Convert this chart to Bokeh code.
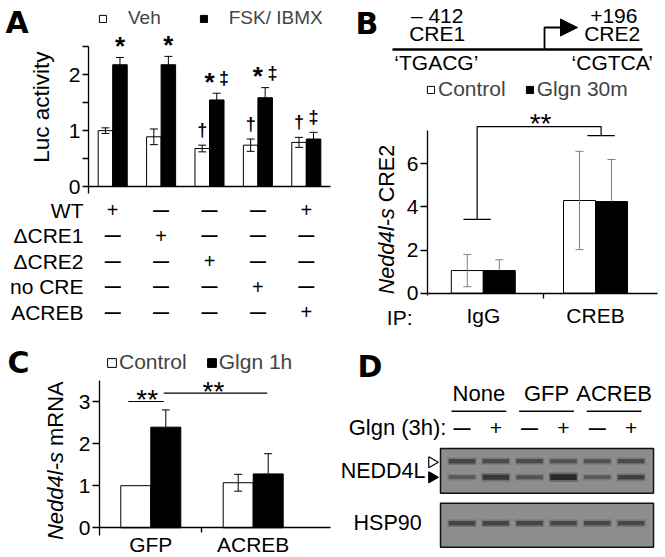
import math
from bokeh.plotting import figure
from bokeh.layouts import column, row
from bokeh.models import (Range1d, FixedTicker, Whisker, TeeHead, ColumnDataSource,
                          Label, Legend, LegendItem)
from bokeh.embed import file_html
from bokeh.resources import INLINE
from bokeh.core.properties import value

FONT = "Liberation Sans"
LETTER_FONT = "DejaVu Sans"

# ---------------- data: panel A ----------------
a_groups = [0, 1, 2, 3, 4]
a_veh = [1.00, 0.89, 0.68, 0.74, 0.79]
a_veh_err = [0.05, 0.14, 0.06, 0.11, 0.09]
a_fsk = [2.18, 2.18, 1.55, 1.59, 0.85]
a_fsk_err = [0.13, 0.15, 0.12, 0.18, 0.12]
a_veh_mark = ["", "", "†", "†", "†"]
a_fsk_star = ["*", "*", "*", "*", ""]
a_fsk_dagger = ["", "", "‡", "‡", "‡"]
a_rows = ["WT", "ΔCRE1", "ΔCRE2", "no CRE", "ACREB"]
a_table = [
    ["+", "—", "—", "—", "+"],
    ["—", "+", "—", "—", "—"],
    ["—", "—", "+", "—", "—"],
    ["—", "—", "—", "+", "—"],
    ["—", "—", "—", "—", "+"],
]
a_yticks = [0, 1, 2]
a_yminor = [0.5, 1.5, 2.5]

# ---------------- data: panel B ----------------
b_groups = ["IgG", "CREB"]
b_control = [1.05, 4.30]
b_control_err = [0.75, 2.28]
b_glgn = [1.05, 4.25]
b_glgn_err = [0.50, 1.95]
b_yticks = [0, 2, 4, 6]
b_sig = [3.42, 7.73, 7.31]  # left cap, top, right cap

# ---------------- data: panel C ----------------
c_groups = ["GFP", "ACREB"]
c_control = [1.00, 1.07]
c_control_err = [0.0, 0.20]
c_glgn = [2.39, 1.28]
c_glgn_err = [0.41, 0.48]
c_yticks = [0, 1, 2, 3]
c_sig = [3.0, 3.2]

# ---------------- data: panel D ----------------
d_groups = ["None", "GFP", "ACREB"]
d_glgn = ["—", "+", "—", "+", "—", "+"]
d_nedd4l_upper = [0.60, 0.55, 0.55, 0.50, 0.50, 0.55]
d_nedd4l_lower = [0.42, 0.75, 0.47, 0.92, 0.42, 0.65]
d_hsp90 = [0.60, 0.60, 0.60, 0.58, 0.58, 0.58]


def make_fig(w, h, xr, yr):
    p = figure(width=w, height=h, x_range=xr, y_range=yr, output_backend="svg",
               toolbar_location=None, min_border_left=0, min_border_right=0,
               min_border_top=0, min_border_bottom=0)
    p.xgrid.visible = False
    p.ygrid.visible = False
    p.outline_line_color = None
    p.background_fill_color = "white"
    p.border_fill_color = "white"
    return p


def style_axis(ax, size="21px"):
    ax.axis_line_color = "black"
    ax.axis_line_width = 1.3
    ax.major_tick_line_color = "black"
    ax.minor_tick_line_color = "black"
    ax.major_tick_line_width = 1.3
    ax.minor_tick_line_width = 1.3
    ax.major_tick_in = 0
    ax.minor_tick_in = 0
    ax.major_label_text_font = FONT
    ax.major_label_text_font_size = size
    ax.major_label_text_color = "black"


def whisker(p, xs, lo, hi, color, both=True, size=8):
    src = ColumnDataSource(dict(x=xs, lo=lo, hi=hi))
    w = Whisker(source=src, base="x", lower="lo", upper="hi", line_color=color, line_width=1,
                upper_head=TeeHead(size=size, line_color=color, line_width=1),
                lower_head=TeeHead(size=size, line_color=color, line_width=1) if both else None,
                level="annotation")
    p.add_layout(w)


def legend(p, items, loc, glyph, standoff, spacing, size="21px"):
    lg = Legend(items=[LegendItem(label=t, renderers=[r]) for t, r in items],
                location=loc, orientation="horizontal", glyph_width=glyph, glyph_height=glyph,
                label_height=glyph, label_standoff=standoff, spacing=spacing, padding=0,
                margin=0, border_line_color=None, background_fill_alpha=0,
                label_text_font=FONT, label_text_font_size=size)
    p.add_layout(lg)


def txt(p, xs, ys, texts, size, bold=False, italic=False, align="center"):
    style = "bold" if bold else ("italic" if italic else "normal")
    p.text(x=xs, y=ys, text=texts, text_font=value(FONT), text_font_size=size,
           text_font_style=style, text_align=align, text_baseline="middle", text_color="black")


def label(p, t, x, y, size, angle=0.0, align="center", style="normal", font=FONT):
    p.add_layout(Label(x=x, y=y, x_units="data", y_units="data", text=t, text_font=font,
                       text_font_size=size, text_font_style=style, text_baseline="middle",
                       text_align=align, angle=angle, text_color="black"))


def letter(p, t, x, y):
    label(p, t, x, y, "30px", align="left", style="bold", font=LETTER_FONT)


# =============== Panel A (chart) ===============  page x 0..340, y 0..196
A_PX = 55.85   # px per unit (y)
A_GX = 48.4    # px per group (x)
BWA = 0.3
ax_veh = [g - BWA / 2 for g in a_groups]
ax_fsk = [g + BWA / 2 for g in a_groups]
pA = make_fig(340, 196, Range1d(-0.5 - 88 / A_GX, 4.5 + 10 / A_GX),
              Range1d(-10 / A_PX, 186 / A_PX))
r_veh = pA.vbar(x=ax_veh, top=a_veh, width=BWA, fill_color="white", line_color="black", line_width=1)
r_fsk = pA.vbar(x=ax_fsk, top=a_fsk, width=BWA, fill_color="black", line_color="black", line_width=1)
whisker(pA, ax_veh, [v - e for v, e in zip(a_veh, a_veh_err)],
        [v + e for v, e in zip(a_veh, a_veh_err)], "black")
whisker(pA, ax_fsk, a_fsk, [v + e for v, e in zip(a_fsk, a_fsk_err)], "black", both=False)

ya = pA.yaxis[0]
style_axis(ya)
ya.fixed_location = -0.5
ya.ticker = FixedTicker(ticks=a_yticks, minor_ticks=a_yminor)
ya.bounds = (-0.12, 2.5)
ya.major_tick_out = 6
ya.minor_tick_out = 6
ya.major_label_standoff = 2
xa = pA.xaxis[0]
style_axis(xa)
xa.fixed_location = 0
xa.bounds = (-0.5, 4.5)
xa.ticker = FixedTicker(ticks=[], minor_ticks=[])
xa.major_tick_out = 0
xa.minor_tick_out = 0

sx, sy, dx, dy, dt = [], [], [], [], []
for i in a_groups:
    vt = a_veh[i] + a_veh_err[i]
    ft = a_fsk[i] + a_fsk_err[i]
    if a_veh_mark[i]:
        dx.append(ax_veh[i]); dy.append(vt + 0.27); dt.append(a_veh_mark[i])
    st, dg = a_fsk_star[i], a_fsk_dagger[i]
    if st and dg:
        sx.append(i); sy.append(ft + 0.2)
        dx.append(i + BWA); dy.append(ft + 0.27); dt.append(dg)
    elif st:
        sx.append(ax_fsk[i]); sy.append(ft + 0.2)
    elif dg:
        dx.append(ax_fsk[i]); dy.append(ft + 0.27); dt.append(dg)
txt(pA, sx, sy, ["*"] * len(sx), "26px", bold=True)
txt(pA, dx, dy, dt, "18px", bold=True)

legend(pA, [("Veh", r_veh), ("FSK/ IBMX", r_fsk)], (98, 167), 9, 21, 38, "19px")
label(pA, "Luc activity", -1.471, 1.42, "22.5px", angle=math.pi / 2)
letter(pA, "A", -2.215, 2.94)

# =============== Panel A (table) ===============  page y 196..340
T_ROW = 25.5
pT = make_fig(340, 144, pA.x_range, Range1d(-13.75 / T_ROW + 144 / T_ROW, -13.75 / T_ROW))
pT.xaxis.visible = False
yt = pT.yaxis[0]
style_axis(yt)
yt.fixed_location = -0.5
yt.ticker = FixedTicker(ticks=list(range(len(a_rows))), minor_ticks=[])
yt.major_label_overrides = {i: r for i, r in enumerate(a_rows)}
yt.axis_line_color = None
yt.major_tick_line_color = None
yt.major_tick_out = 0
yt.major_label_standoff = 5
px_, py_, mx_, my_ = [], [], [], []
for r, rowvals in enumerate(a_table):
    for g, s in enumerate(rowvals):
        if s == "+":
            px_.append(g); py_.append(r)
        else:
            mx_.append(g); my_.append(r)
txt(pT, px_, py_, ["+"] * len(px_), "20px")
txt(pT, mx_, my_, ["—"] * len(mx_), "16px", bold=True)

# =============== Panel B (diagram) ===============  page x 340..665, y 0..78
pBd = make_fig(325, 78, Range1d(0, 325), Range1d(78, 0))
pBd.axis.visible = False
pBd.line(x=[52, 302], y=[49, 49], line_color="black", line_width=2.3)
pBd.line(x=[204, 204, 222], y=[49, 27, 27], line_color="black", line_width=1.8)
pBd.patch(x=[220, 220, 237], y=[18.5, 35.5, 27], fill_color="black", line_color="black")
txt(pBd, [96.7, 273.3], [15, 15], ["– 412", "+196"], "21px")
txt(pBd, [96.7, 271.7], [32.5, 32.5], ["CRE1", "CRE2"], "21px")
txt(pBd, [95.8, 271.7], [62, 62], ["‘TGACG’", "‘CGTCA’"], "21px")
letter(pBd, "B", 15, 22.5)

# =============== Panel B (chart) ===============  page x 340..665, y 78..340
B_PX = 21.56
B_GX = 112.2
BWB = 0.285
bx_c = [i - BWB / 2 for i in range(len(b_groups))]
bx_g = [i + BWB / 2 for i in range(len(b_groups))]
pB = make_fig(325, 262, Range1d(-142.8 / B_GX, (325 - 142.8) / B_GX),
              Range1d(-(262 - 214.7) / B_PX, 214.7 / B_PX))
r_bc = pB.vbar(x=bx_c, top=b_control, width=BWB, fill_color="white", line_color="black", line_width=1)
r_bg = pB.vbar(x=bx_g, top=b_glgn, width=BWB, fill_color="black", line_color="black", line_width=1)
whisker(pB, bx_c, [v - e for v, e in zip(b_control, b_control_err)],
        [v + e for v, e in zip(b_control, b_control_err)], "#808080")
whisker(pB, bx_g, b_glgn, [v + e for v, e in zip(b_glgn, b_glgn_err)], "#808080", both=False)
yb = pB.yaxis[0]
style_axis(yb)
yb.fixed_location = -0.497
yb.ticker = FixedTicker(ticks=b_yticks, minor_ticks=[])
yb.bounds = (-0.1, 7.55)
yb.major_tick_out = 7
yb.major_label_standoff = 2
xb = pB.xaxis[0]
style_axis(xb)
xb.fixed_location = 0
xb.bounds = (-0.497, 1.553)
xb.ticker = FixedTicker(ticks=[0, 1], minor_ticks=[0.537])
xb.major_label_overrides = {i: g for i, g in enumerate(b_groups)}
xb.major_tick_out = 0
xb.minor_tick_out = 5
xb.major_label_standoff = 6
label(pB, "IP:", -0.745, -1.113, "21px")
lx, rx, cw = -0.055, 1.05, 0.122
pB.multi_line(xs=[[lx, lx, rx, rx], [lx - cw, lx + cw], [rx - cw, rx + cw]],
              ys=[[b_sig[0], b_sig[1], b_sig[1], b_sig[2]], [b_sig[0], b_sig[0]], [b_sig[2], b_sig[2]]],
              line_color="black", line_width=1.2)
txt(pB, [0.51], [b_sig[1] + 0.12], ["**"], "28px")
legend(pB, [("Control", r_bc), ("Glgn 30m", r_bg)], (86, 239), 9, 3, 19)
label(pB, "Nedd4l-s", -0.854, 3.94, "21.5px", angle=math.pi / 2, align="right", style="italic")
label(pB, "CRE2", -0.854, 3.94 + 6 / B_PX, "21.5px", angle=math.pi / 2, align="left")

# =============== Panel C ===============  page x 0..340, y 340..557
C_PX = 42.1
C_GX = 102.4
BWC = 0.293
cx_c = [i - BWC / 2 for i in range(len(c_groups))]
cx_g = [i + BWC / 2 for i in range(len(c_groups))]
pC = make_fig(340, 217, Range1d(-150.3 / C_GX, (340 - 150.3) / C_GX),
              Range1d(-(217 - 187.3) / C_PX, 187.3 / C_PX))
r_cc = pC.vbar(x=cx_c, top=c_control, width=BWC, fill_color="white", line_color="black", line_width=1)
r_cg = pC.vbar(x=cx_g, top=c_glgn, width=BWC, fill_color="black", line_color="black", line_width=1)
ce = [i for i, e in enumerate(c_control_err) if e > 0]
whisker(pC, [cx_c[i] for i in ce], [c_control[i] - c_control_err[i] for i in ce],
        [c_control[i] + c_control_err[i] for i in ce], "black")
whisker(pC, cx_g, c_glgn, [v + e for v, e in zip(c_glgn, c_glgn_err)], "black", both=False)
yc = pC.yaxis[0]
style_axis(yc)
yc.fixed_location = -0.501
yc.ticker = FixedTicker(ticks=c_yticks, minor_ticks=[])
yc.bounds = (-0.19, 3.5)
yc.major_tick_out = 7
yc.major_label_standoff = 2
xc = pC.xaxis[0]
style_axis(xc)
xc.fixed_location = 0
xc.bounds = (-0.501, 1.755)
xc.ticker = FixedTicker(ticks=[0, 1], minor_ticks=[0.495])
xc.major_label_overrides = {i: g for i, g in enumerate(c_groups)}
xc.major_tick_out = 0
xc.minor_tick_out = 5
xc.major_label_standoff = 0
pC.multi_line(xs=[[-0.22, 0.127], [0.127, 1.137]], ys=[[c_sig[0], c_sig[0]], [c_sig[1], c_sig[1]]],
              line_color="black", line_width=1.2)
txt(pC, [-0.035, 0.612], [c_sig[0] + 0.05, c_sig[1] + 0.04], ["**", "**"], "28px")
legend(pC, [("Control", r_cc), ("Glgn 1h", r_cg)], (106, 182.7), 11, 2, 19)
label(pC, "Nedd4l-s", -0.931, 1.80, "22px", angle=math.pi / 2, align="right", style="italic")
label(pC, "mRNA", -0.931, 1.80 + 6 / C_PX, "22px", angle=math.pi / 2, align="left")
letter(pC, "C", -1.399, 3.915)

# =============== Panel D ===============  page x 340..665, y 340..557
pD = make_fig(325, 217, Range1d(-3.595, 6.02), Range1d(217, 0))
pD.axis.visible = False
lanes = list(range(len(d_glgn)))
txt(pD, [2 * i + 0.5 for i in range(len(d_groups))], [53.3] * len(d_groups), d_groups, "22px")
pD.multi_line(xs=[[2 * i - 0.31, 2 * i + 1.31] for i in range(len(d_groups))],
              ys=[[70.7, 70.7] for _ in d_groups], line_color="black", line_width=1.5)
txt(pD, [-0.46], [86.7], ["Glgn (3h):"], "22px", align="right")
plus_l = [i for i in lanes if d_glgn[i] == "+"]
minus_l = [i for i in lanes if d_glgn[i] != "+"]
txt(pD, plus_l, [87.5] * len(plus_l), ["+"] * len(plus_l), "21px")
txt(pD, minus_l, [88.3] * len(minus_l), ["—"] * len(minus_l), "17px", bold=True)
pD.rect(x=[2.515, 2.515], y=[130.35, 184.7], width=6.302, height=[44.7, 44.0],
        fill_color="#8d8d8d", line_color="#111111", line_width=1.5)


def bands(yc_, intens):
    n = len(lanes)
    pD.rect(x=lanes, y=[yc_] * n, width=0.86, height=[4 + 6 * a for a in intens],
            fill_color="#222222", fill_alpha=[a * 0.35 for a in intens], line_color=None)
    pD.rect(x=lanes, y=[yc_] * n, width=0.78, height=[2 + 4 * a for a in intens],
            fill_color="#111111", fill_alpha=[a * 0.8 for a in intens], line_color=None)


bands(120.7, d_nedd4l_upper)
bands(136.7, d_nedd4l_lower)
bands(182.7, d_hsp90)
txt(pD, [-1.08], [130], ["NEDD4L"], "21.5px", align="right")
pD.scatter(x=[-0.89, -0.89], y=[121.7, 136.7], marker="triangle", size=11, angle=-math.pi / 2,
           fill_color=["white", "black"], line_color="black", line_width=1.2)
txt(pD, [-2.2], [182.7], ["HSP90"], "21.5px")
letter(pD, "D", -3.09, 25.8)

layout = column(row(column(pA, pT), column(pBd, pB)), row(pC, pD))
open("out.html", "w").write(file_html(layout, INLINE))
